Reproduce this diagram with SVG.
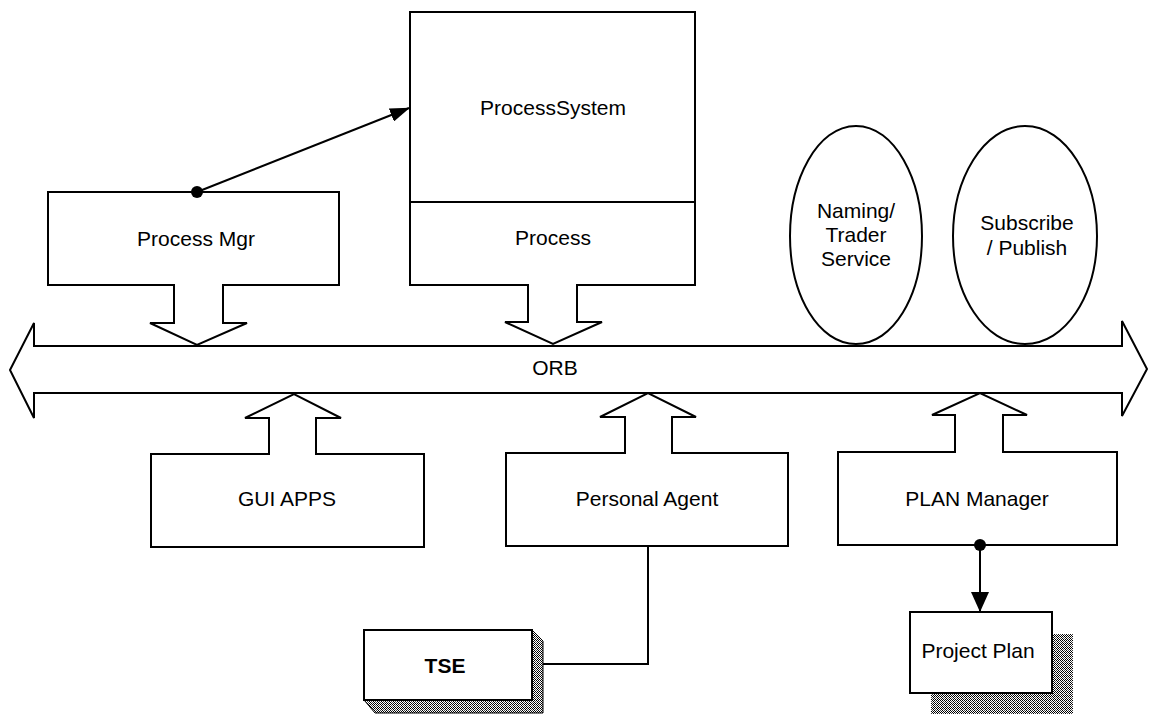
<svg xmlns="http://www.w3.org/2000/svg" width="1150" height="715" viewBox="0 0 1150 715">
  <style>
    .shape { fill: #fff; stroke: #000; stroke-width: 2; stroke-linejoin: miter; }
    .line { fill: none; stroke: #000; stroke-width: 2; }
    .label { font-family: "Liberation Sans", Arial, sans-serif; font-size: 21px; fill: #000; text-anchor: middle; }
    .bold { font-weight: bold; }
    .shade { fill: url(#stipple); stroke: #000; stroke-width: 1; }
  </style>
  <defs>
    <!-- dithered grey used for the 3D faces and drop shadow -->
    <pattern id="stipple" width="4" height="4" patternUnits="userSpaceOnUse">
      <rect width="4" height="4" fill="#fff"/>
      <rect x="0" y="0" width="1" height="1" fill="#000"/>
      <rect x="2" y="0" width="1" height="1" fill="#000"/>
      <rect x="1" y="1" width="1" height="1" fill="#000"/>
      <rect x="3" y="1" width="1" height="1" fill="#444"/>
      <rect x="0" y="2" width="1" height="1" fill="#444"/>
      <rect x="2" y="2" width="1" height="1" fill="#000"/>
      <rect x="1" y="3" width="1" height="1" fill="#000"/>
      <rect x="3" y="3" width="1" height="1" fill="#000"/>
    </pattern>
    <marker id="arrowhead" markerWidth="20" markerHeight="14" refX="19" refY="7" orient="auto" markerUnits="userSpaceOnUse">
      <path d="M0,0 L20,7 L0,14 Z" fill="#000"/>
    </marker>
    <marker id="arrowheadBig" markerWidth="20" markerHeight="18" refX="19" refY="9" orient="auto" markerUnits="userSpaceOnUse">
      <path d="M0,0 L20,9 L0,18 Z" fill="#000"/>
    </marker>
  </defs>

  <!-- ORB bus: double-headed block arrow -->
  <g id="orb">
    <path class="shape" d="M10,370 L34,323 L34,346 L1122,346 L1122,321 L1147,369 L1122,416 L1122,393 L34,393 L34,418 Z"/>
    <text class="label" x="555" y="375">ORB</text>
  </g>

  <g id="process-mgr">
    <path class="shape" d="M48,192 L339,192 L339,285 L223,285 L223,323 L247,323 L197,345 L150,323 L174,323 L174,285 L48,285 Z"/>
    <text class="label" x="196" y="246">Process Mgr</text>
  </g>

  <g id="process-system">
    <path class="shape" d="M410,12 L695,12 L695,285 L577,285 L577,322 L602,322 L553,344 L505,322 L528,322 L528,285 L410,285 Z"/>
    <line class="line" x1="410" y1="202" x2="695" y2="202"/>
    <text class="label" x="553" y="115">ProcessSystem</text>
    <text class="label" x="553" y="245">Process</text>
  </g>

  <g id="naming-trader">
    <path class="shape" d="M856,126 C895,126 922,180 922,236 C922,296 893,344 856,344 C819,344 790,296 790,236 C790,180 817,126 856,126 Z"/>
    <text class="label" x="856" y="218">Naming/</text>
    <text class="label" x="856" y="242">Trader</text>
    <text class="label" x="856" y="266">Service</text>
  </g>

  <g id="subscribe-publish">
    <path class="shape" d="M1025,126 C1067,126 1097,180 1097,236 C1097,296 1065,344 1025,344 C985,344 953,296 953,236 C953,180 983,126 1025,126 Z"/>
    <text class="label" x="1027" y="230">Subscribe</text>
    <text class="label" x="1027" y="255">/ Publish</text>
  </g>

  <g id="gui-apps">
    <path class="shape" d="M151,454 L269,454 L269,418 L245,418 L294,394 L341,418 L316,418 L316,454 L424,454 L424,547 L151,547 Z"/>
    <text class="label" x="287" y="506">GUI APPS</text>
  </g>

  <g id="personal-agent">
    <path class="shape" d="M506,453 L625,453 L625,417 L600,417 L648,393 L696,417 L672,417 L672,453 L788,453 L788,546 L506,546 Z"/>
    <text class="label" x="647" y="506">Personal Agent</text>
  </g>

  <g id="plan-manager">
    <path class="shape" d="M838,452 L955,452 L955,415 L932,415 L980,393 L1027,415 L1003,415 L1003,452 L1117,452 L1117,545 L838,545 Z"/>
    <text class="label" x="977" y="506">PLAN Manager</text>
  </g>

  <g id="tse">
    <!-- right and bottom faces of the block -->
    <path class="shade" d="M532,630 L543,641 L543,713 L375,713 L364,700 L532,700 Z"/>
    <rect class="shape" x="364" y="630" width="168" height="70"/>
    <text class="label bold" x="445" y="673">TSE</text>
  </g>

  <g id="project-plan">
    <rect x="931" y="634" width="142" height="80" fill="url(#stipple)"/>
    <rect class="shape" x="910" y="612" width="142" height="81"/>
    <text class="label" x="978" y="658">Project Plan</text>
  </g>

  <g id="connectors">
    <!-- Process Mgr to ProcessSystem -->
    <line class="line" x1="197" y1="192" x2="409" y2="108" marker-end="url(#arrowhead)"/>
    <circle cx="197" cy="192" r="6" fill="#000"/>
    <!-- Personal Agent to TSE -->
    <polyline class="line" points="648,546 648,664 543,664"/>
    <!-- PLAN Manager to Project Plan -->
    <line class="line" x1="980" y1="545" x2="980" y2="611" marker-end="url(#arrowheadBig)"/>
    <circle cx="980" cy="545" r="6" fill="#000"/>
  </g>
</svg>
